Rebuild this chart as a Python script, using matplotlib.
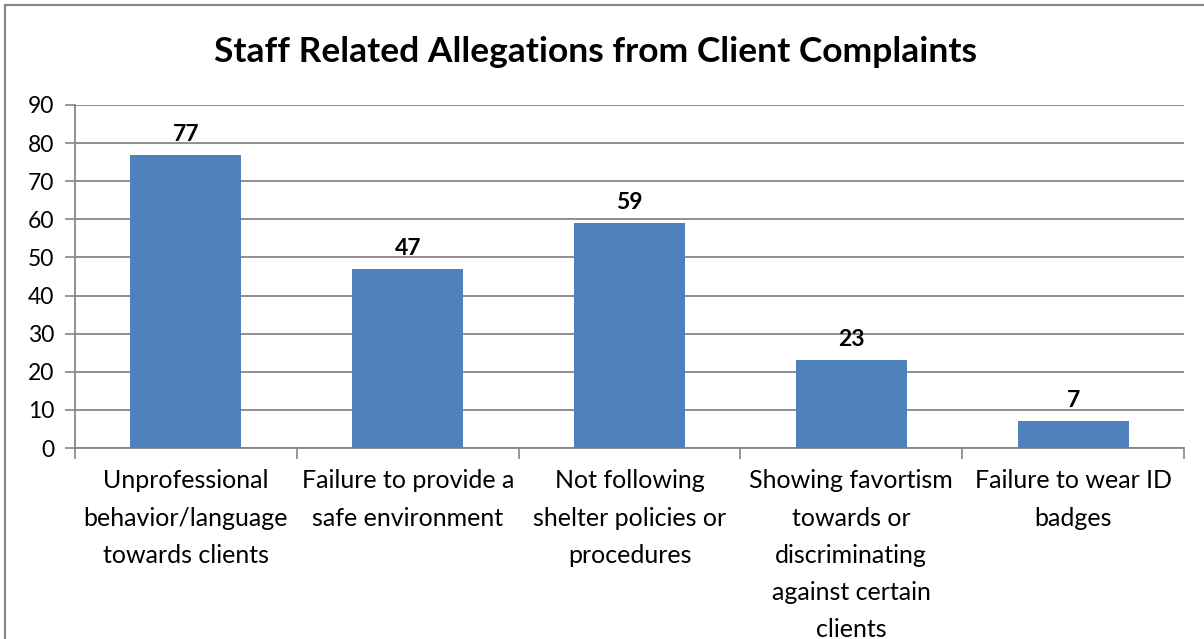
import matplotlib
matplotlib.use("Agg")
import matplotlib.pyplot as plt
import numpy as np

categories = [
    "Unprofessional\nbehavior/language\ntowards clients",
    "Failure to provide a\nsafe environment",
    "Not following\nshelter policies or\nprocedures",
    "Showing favortism\ntowards or\ndiscriminating\nagainst certain\nclients",
    "Failure to wear ID\nbadges",
]
counts = [77, 47, 59, 23, 7]

plt.rcParams['font.family'] = ['Lato', 'DejaVu Sans']

fig = plt.figure(figsize=(12.04, 6.39), dpi=100)
ax = fig.add_axes([0.0623, 0.2989, 0.9834 - 0.0623, 0.8357 - 0.2989])

x = np.arange(len(categories))
bars = ax.bar(x, counts, width=0.5, color='#4f81bd', zorder=3)

# data labels
for b, v in zip(bars, counts):
    ax.text(b.get_x() + b.get_width() / 2, v + 2.6, str(v), ha='center', va='bottom',
            fontsize=16.5, fontweight='bold')

ax.set_xlim(-0.5, len(categories) - 0.5)
ax.set_ylim(0, 90)
ax.set_yticks(range(0, 91, 10))
ax.yaxis.grid(True, color='#868686', linewidth=1.3, zorder=0)
ax.tick_params(axis='y', labelsize=16.5, length=7, width=1.2, color='#868686', pad=8)

# category labels between boundary ticks
ax.set_xticks(np.arange(-0.5, len(categories), 1.0))
ax.set_xticklabels([])
ax.tick_params(axis='x', length=8, width=1.2, color='#868686')
for i, c in enumerate(categories):
    ax.text(i, -5.6, c, ha='center', va='top', fontsize=18, linespacing=1.75)

for s in ['top', 'right']:
    ax.spines[s].set_visible(False)
for s in ['left', 'bottom']:
    ax.spines[s].set_color('#868686')
    ax.spines[s].set_linewidth(1.3)

fig.text(0.495, 0.918, "Staff Related Allegations from Client Complaints", ha='center',
         va='center', fontsize=25.5, fontweight='bold')

# outer chart border (top and left visible)
fig.add_artist(plt.Line2D([0.0045, 1.0], [0.992, 0.992], color='#868686', linewidth=1.5))
fig.add_artist(plt.Line2D([0.0045, 0.0045], [0.0, 0.992], color='#868686', linewidth=1.5))

fig.savefig("out.png", dpi=100)
